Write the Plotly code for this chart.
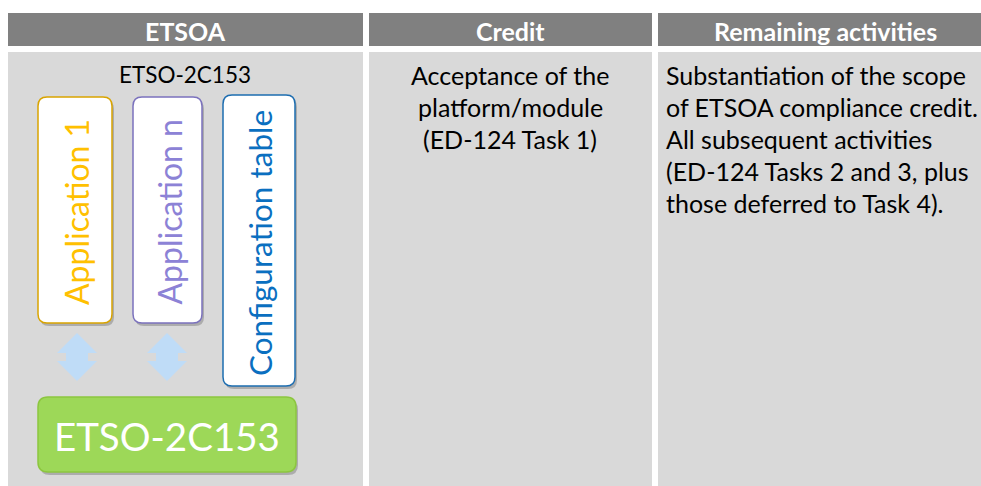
import plotly.graph_objects as go

# ---- table content ----
headers = ["ETSOA", "Credit", "Remaining activities"]
col_left = [8, 369, 658]
col_right = [363, 652, 992]
etsoa_title = "ETSO-2C153"
credit_lines = ["Acceptance of the", "platform/module", "(ED-124 Task 1)"]
remaining_lines = ["Substantiation of the scope", "of ETSOA compliance credit.",
                   "All subsequent activities", "(ED-124 Tasks 2 and 3, plus",
                   "those deferred to Task 4)."]
apps = ["Application 1", "Application n", "Configuration table"]
app_text_colors = ["#FFC000", "#8C82D6", "#0A6FC0"]
app_border_colors = ["#D9A400", "#7B72BD", "#1D6DB0"]
app_font_sizes = [32, 32, 31.5]
platform_label = "ETSO-2C153"

FONT = "Lato, Carlito, Calibri, sans-serif"
W, H = 981, 486
HEAD_Y0, HEAD_Y1 = 13, 46
BODY_Y0, BODY_Y1 = 52, 490
BODY_SIZE = 25
LINE_H = 32

fig = go.Figure()
shapes = []
annotations = []


def rr(x0, y0, x1, y1, r):
    return (f"M {x0+r},{y0} L {x1-r},{y0} Q {x1},{y0} {x1},{y0+r} "
            f"L {x1},{y1-r} Q {x1},{y1} {x1-r},{y1} L {x0+r},{y1} "
            f"Q {x0},{y1} {x0},{y1-r} L {x0},{y0+r} Q {x0},{y0} {x0+r},{y0} Z")


# column backgrounds
for i, h in enumerate(headers):
    x0, x1 = col_left[i], col_right[i]
    shapes.append(dict(type="rect", x0=x0, x1=x1, y0=HEAD_Y0, y1=HEAD_Y1,
                       fillcolor="#808080", line=dict(width=0), layer="below"))
    shapes.append(dict(type="rect", x0=x0, x1=x1, y0=BODY_Y0, y1=BODY_Y1,
                       fillcolor="#D9D9D9", line=dict(width=0), layer="below"))
    annotations.append(dict(x=(x0 + x1) / 2, y=(HEAD_Y0 + HEAD_Y1) / 2 + 1, text=f"<b>{h}</b>",
                            showarrow=False, font=dict(family=FONT, size=25, color="white"),
                            xanchor="center", yanchor="middle"))

# column 1 title
annotations.append(dict(x=185, y=74, text=etsoa_title, showarrow=False,
                        font=dict(family=FONT, size=22.5, color="black"),
                        xanchor="center", yanchor="middle"))

# credit lines
for k, t in enumerate(credit_lines):
    annotations.append(dict(x=510, y=75 + LINE_H * k, text=t, showarrow=False,
                            font=dict(family=FONT, size=BODY_SIZE, color="black"),
                            xanchor="center", yanchor="middle"))

# remaining lines
for k, t in enumerate(remaining_lines):
    annotations.append(dict(x=664, y=75 + LINE_H * k, text=t, showarrow=False,
                            font=dict(family=FONT, size=BODY_SIZE, color="black"),
                            xanchor="left", yanchor="middle"))

# application boxes
boxes = [(38, 97, 112, 323), (133, 97, 202, 323), (223, 95, 295, 386)]
text_y = [212, 212, 243]
for (x0, y0, x1, y1), name, tc, bc, fs, ty in zip(boxes, apps, app_text_colors,
                                                  app_border_colors, app_font_sizes, text_y):
    shapes.append(dict(type="path", path=rr(x0 + 2, y0 + 3, x1 + 2, y1 + 3, 9),
                       fillcolor="rgba(90,90,90,0.35)", line=dict(width=0)))
    shapes.append(dict(type="path", path=rr(x0, y0, x1, y1, 9),
                       fillcolor="white", line=dict(color=bc, width=1.5)))
    annotations.append(dict(x=(x0 + x1) / 2 + 1, y=ty,
                            text=name, textangle=-90, showarrow=False,
                            font=dict(family=FONT, size=fs, color=tc),
                            xanchor="center", yanchor="middle"))


def dbl_arrow(cx, yt, yb, hw, sw, hh):
    return (f"M {cx},{yt} L {cx+hw},{yt+hh} L {cx+sw},{yt+hh} L {cx+sw},{yb-hh} "
            f"L {cx+hw},{yb-hh} L {cx},{yb} L {cx-hw},{yb-hh} L {cx-sw},{yb-hh} "
            f"L {cx-sw},{yt+hh} L {cx-hw},{yt+hh} Z")


for cx in (77, 167):
    shapes.append(dict(type="path", path=dbl_arrow(cx, 333, 381, 20, 11, 20),
                       fillcolor="#BFDCF7", line=dict(width=0)))

# platform box
gx0, gy0, gx1, gy1 = 38, 397, 296, 472
shapes.append(dict(type="path", path=rr(gx0 + 2, gy0 + 3, gx1 + 2, gy1 + 3, 10),
                   fillcolor="rgba(90,90,90,0.35)", line=dict(width=0)))
shapes.append(dict(type="path", path=rr(gx0, gy0, gx1, gy1, 10),
                   fillcolor="#9DD858", line=dict(color="#8CC63F", width=1.5)))
annotations.append(dict(x=(gx0 + gx1) / 2, y=(gy0 + gy1) / 2 + 1, text=platform_label,
                        showarrow=False, font=dict(family=FONT, size=38.5, color="white"),
                        xanchor="center", yanchor="middle"))

fig.update_layout(
    width=W, height=H, margin=dict(l=0, r=0, t=0, b=0),
    paper_bgcolor="white", plot_bgcolor="white",
    xaxis=dict(range=[0, W], visible=False, fixedrange=True),
    yaxis=dict(range=[H, 0], visible=False, fixedrange=True),
    shapes=shapes, annotations=annotations, showlegend=False,
)
fig.write_html("out.html", config={"displayModeBar": False},
               post_script="document.body.style.margin='0';document.body.style.overflow='hidden';")
